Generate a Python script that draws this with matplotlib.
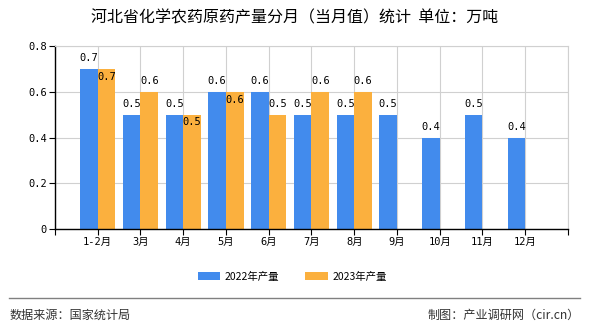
import matplotlib
matplotlib.use("Agg")
import matplotlib.pyplot as plt
import numpy as np

plt.rcParams["font.family"] = ["Noto Sans CJK SC", "DejaVu Sans"]
num_font = ["DejaVu Sans Mono", "Noto Sans CJK SC"]

months = ["1-2月", "3月", "4月", "5月", "6月", "7月", "8月", "9月", "10月", "11月", "12月"]
prod_2022 = [0.7, 0.5, 0.5, 0.6, 0.6, 0.5, 0.5, 0.5, 0.4, 0.5, 0.4]
prod_2023 = [0.7, 0.6, 0.5, 0.6, 0.5, 0.6, 0.6]
y_ticks = [0, 0.2, 0.4, 0.6, 0.8]
y_tick_labels = ["0", "0.2", "0.4", "0.6", "0.8"]

blue = "#428bed"
orange = "#fbb03e"

fig = plt.figure(figsize=(5.9, 3.3), dpi=100)
ax = fig.add_axes([0.0932, 0.306, 0.8695, 0.5546])

x = np.arange(len(months))
w = 0.41
b1 = ax.bar(x - w / 2, prod_2022, width=w, color=blue, label="2022年产量", zorder=2)
x2 = np.arange(len(prod_2023))
b2 = ax.bar(x2 + w / 2, prod_2023, width=w, color=orange, label="2023年产量", zorder=2)

# value labels
for xi, v in zip(x, prod_2022):
    ax.annotate(f"{v:.1f}", (xi - w / 2, v), xytext=(0, 4), textcoords="offset points",
                ha="center", va="bottom", fontsize=7.5, family=num_font, zorder=3)
for xi, v in zip(x2, prod_2023):
    # when the 2023 value equals 2022, the label sits inside the bar
    if v == prod_2022[xi]:
        ax.annotate(f"{v:.1f}", (xi + w / 2, v), xytext=(0, -2), textcoords="offset points",
                    ha="center", va="top", fontsize=7.5, family=num_font, zorder=3)
    else:
        ax.annotate(f"{v:.1f}", (xi + w / 2, v), xytext=(0, 4), textcoords="offset points",
                    ha="center", va="bottom", fontsize=7.5, family=num_font, zorder=3)

ax.set_xlim(-1, len(months))
ax.set_ylim(0, 0.8)
ax.set_yticks(y_ticks)
ax.set_yticklabels(y_tick_labels, fontsize=7.5, family=num_font)
ax.set_xticks(np.arange(-1, len(months) + 1))
ax.set_xticklabels([""] + months + [""], fontsize=7.5, family=num_font)
ax.grid(True, color="#d0d0d0", linewidth=0.8, zorder=0)
ax.tick_params(length=4, width=0.8, color="black", pad=2)

for s in ["top", "right"]:
    ax.spines[s].set_color("#d0d0d0")
for s in ["left", "bottom"]:
    ax.spines[s].set_color("black")
    ax.spines[s].set_linewidth(1.0)

fig.text(0.5, 0.945, "河北省化学农药原药产量分月（当月值）统计  单位：万吨",
         ha="center", va="center", fontsize=11.5)

fig.legend(handles=[b1, b2], loc="center", bbox_to_anchor=(0.495, 0.162), ncol=2,
           frameon=False, fontsize=7.5, handlelength=2.2, handleheight=0.8,
           columnspacing=2.5, handletextpad=0.4)

fig.add_artist(plt.Line2D([0.015, 0.983], [1 - 298 / 330] * 2, color="#808080", linewidth=1.0))
fig.text(0.017, 1 - 315 / 330, "数据来源：国家统计局", ha="left", va="center", fontsize=8.7, color="#333333")
fig.text(0.983, 1 - 315 / 330, "制图：产业调研网（cir.cn）", ha="right", va="center", fontsize=8.7, color="#333333")

fig.savefig("out.png", dpi=100)
